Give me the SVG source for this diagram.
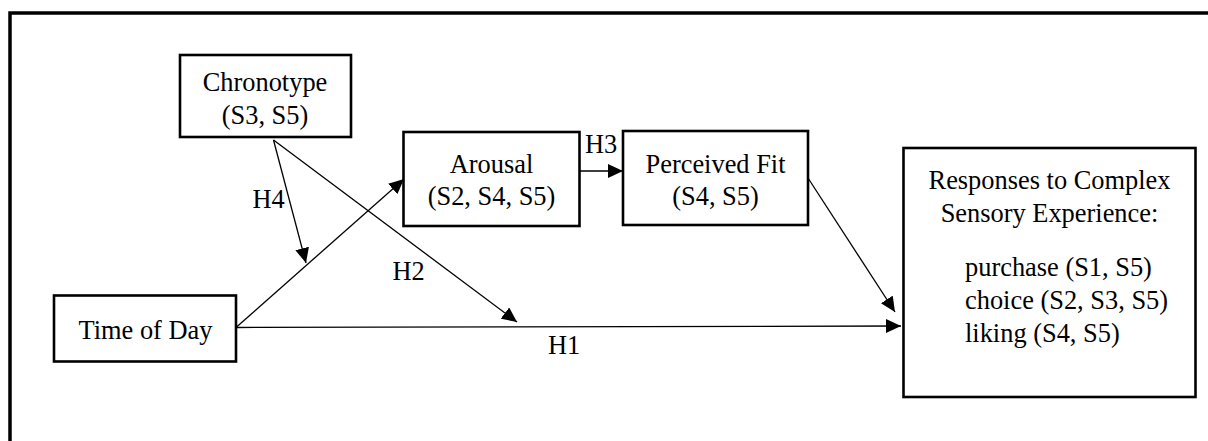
<svg xmlns="http://www.w3.org/2000/svg" width="1208" height="441" viewBox="0 0 1208 441">
<style>
  .frame{fill:none;stroke:#000;stroke-width:3.5}
  .box{fill:#fff;stroke:#000;stroke-width:2.6}
  .t{font-family:"Liberation Serif","Times New Roman",serif;font-size:26.4px;fill:#000}
  .c{text-anchor:middle}
  .edge{fill:none;stroke:#000;stroke-width:1.3;marker-end:url(#ah)}
</style>
<defs>
  <marker id="ah" markerUnits="userSpaceOnUse" markerWidth="16" markerHeight="14" refX="15" refY="7" orient="auto" viewBox="0 0 16 14">
    <path d="M0,0 L15,7 L0,14 z" fill="#000"/>
  </marker>
</defs>
<rect width="1208" height="441" fill="#fff"/>
<rect class="frame" x="10" y="13" width="1300" height="500"/>
<g id="connectors">
  <line class="edge" x1="236" y1="327.5" x2="901" y2="326"/>
  <line class="edge" x1="236" y1="327.5" x2="404" y2="179"/>
  <line class="edge" x1="273.5" y1="140" x2="306" y2="263"/>
  <line class="edge" x1="273.5" y1="140" x2="517" y2="322"/>
  <line class="edge" x1="580" y1="171" x2="623" y2="171"/>
  <line class="edge" x1="808" y1="178" x2="895" y2="312"/>
  <text class="t" x="585" y="153">H3</text>
  <text class="t" x="252.5" y="208">H4</text>
  <text class="t" x="392.5" y="280">H2</text>
  <text class="t" x="548" y="354">H1</text>
</g>
<g id="chronotype">
  <rect class="box" x="180" y="55" width="171" height="82"/>
  <text class="t c" x="265" y="91">Chronotype</text>
  <text class="t c" x="265" y="123.5">(S3, S5)</text>
</g>
<g id="arousal">
  <rect class="box" x="403.5" y="132" width="176" height="94"/>
  <text class="t c" x="491.5" y="173">Arousal</text>
  <text class="t c" x="491.5" y="205">(S2, S4, S5)</text>
</g>
<g id="perceived-fit">
  <rect class="box" x="623" y="131" width="185" height="94"/>
  <text class="t c" x="715.5" y="173.3">Perceived Fit</text>
  <text class="t c" x="715.5" y="204.5">(S4, S5)</text>
</g>
<g id="time-of-day">
  <rect class="box" x="54" y="295.5" width="182" height="66"/>
  <text class="t c" x="145.5" y="339.3">Time of Day</text>
</g>
<g id="responses">
  <rect class="box" x="903.5" y="148" width="292" height="249"/>
  <text class="t c" x="1049.5" y="189">Responses to Complex</text>
  <text class="t c" x="1049.5" y="221.7">Sensory Experience:</text>
  <text class="t" x="965" y="276">purchase (S1, S5)</text>
  <text class="t" x="965" y="309.3">choice (S2, S3, S5)</text>
  <text class="t" x="965" y="341.7">liking (S4, S5)</text>
</g>
</svg>
